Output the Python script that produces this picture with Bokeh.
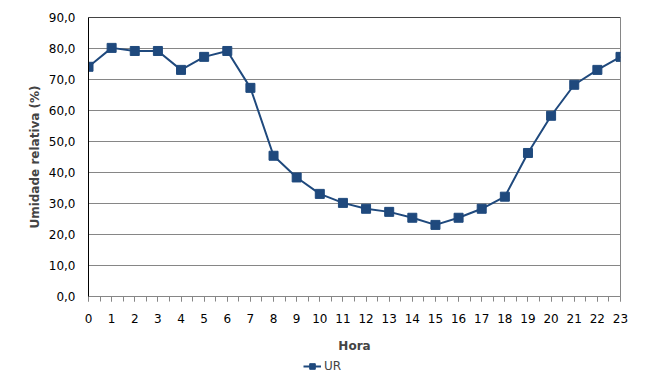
import numpy as np
from bokeh.plotting import figure
from bokeh.layouts import column
from bokeh.models import FixedTicker, Legend, LegendItem, Span, Range1d, CustomJSTickFormatter
from bokeh.embed import file_html
from bokeh.resources import INLINE

hours = list(range(24))
ur = [74.1, 80.2, 79.2, 79.2, 73.1, 77.3, 79.2, 67.3, 45.4, 38.4, 33.1, 30.2,
      28.3, 27.3, 25.4, 23.1, 25.4, 28.3, 32.2, 46.3, 58.3, 68.3, 73.1, 77.3]
y_ticks = [0, 10, 20, 30, 40, 50, 60, 70, 80, 90]
series_name = "UR"
x_title = "Hora"
y_title = "Umidade relativa (%)"

FONT = "DejaVu Sans"
BLUE = "#1F497D"
GRID = "#868686"

p = figure(width=652, height=356, output_backend="svg", toolbar_location=None,
           x_range=Range1d(0, 23), y_range=Range1d(0, 90),
           min_border_left=88, min_border_right=32, min_border_top=17, min_border_bottom=60)

line = p.line(hours, ur, line_color=BLUE, line_width=2)
pts = p.scatter(hours, ur, marker="square", size=9, fill_color=BLUE, line_color=BLUE)

p.outline_line_color = GRID
p.outline_line_width = 1

p.xgrid.visible = False
p.ygrid.ticker = FixedTicker(ticks=y_ticks)
p.ygrid.grid_line_color = GRID
p.ygrid.grid_line_width = 1

p.add_layout(Span(location=90, dimension="width", line_color="black", line_width=1))

xa = p.xaxis[0]
xa.ticker = FixedTicker(ticks=hours, minor_ticks=[h + 0.5 for h in hours[:-1]] + hours)
xa.axis_line_color = GRID
xa.major_tick_line_color = GRID
xa.minor_tick_line_color = GRID
xa.major_tick_out = 5
xa.major_tick_in = 0
xa.minor_tick_out = 5
xa.minor_tick_in = 0
xa.major_label_text_font = FONT
xa.major_label_text_font_size = "12px"
xa.major_label_text_color = "black"
xa.major_label_standoff = 12
xa.axis_label = x_title
xa.axis_label_text_font = FONT
xa.axis_label_text_font_size = "12px"
xa.axis_label_text_font_style = "bold"
xa.axis_label_standoff = 13

ya = p.yaxis[0]
ya.ticker = FixedTicker(ticks=y_ticks)
ya.formatter = CustomJSTickFormatter(code="return tick.toFixed(1).replace('.', ',');")
ya.axis_line_color = "black"
ya.major_tick_out = 0
ya.major_tick_in = 0
ya.minor_tick_line_color = None
ya.major_label_text_font = FONT
ya.major_label_text_font_size = "12px"
ya.major_label_text_color = "black"
ya.major_label_standoff = 13
ya.axis_label = y_title
ya.axis_label_text_font = FONT
ya.axis_label_text_font_size = "12px"
ya.axis_label_text_font_style = "bold"
ya.axis_label_standoff = 4

# legend strip below the chart (key only, no data marks); its frame aligns with the chart frame
lg = figure(width=652, height=32, output_backend="svg", toolbar_location=None,
            x_range=Range1d(0, 1), y_range=Range1d(0, 1),
            x_axis_location=None, y_axis_location=None,
            min_border_left=0, min_border_right=0, min_border_top=0, min_border_bottom=0)
lg.grid.visible = False
lg.outline_line_color = None
nan = np.array([np.nan])
lg_line = lg.line(nan, nan, line_color=BLUE, line_width=2)
lg_pts = lg.scatter(nan, nan, marker="square", size=9, fill_color=BLUE, line_color=BLUE)
legend = Legend(items=[LegendItem(label=series_name, renderers=[lg_line, lg_pts])],
                orientation="horizontal", location=(215, 15),
                label_text_font=FONT, label_text_font_size="12px",
                border_line_color=None, background_fill_alpha=0,
                glyph_width=18, glyph_height=14, label_height=14,
                label_standoff=3, padding=0, margin=0, spacing=0)
lg.add_layout(legend)

layout = column(p, lg, spacing=0)
open("out.html", "w").write(file_html(layout, INLINE))
